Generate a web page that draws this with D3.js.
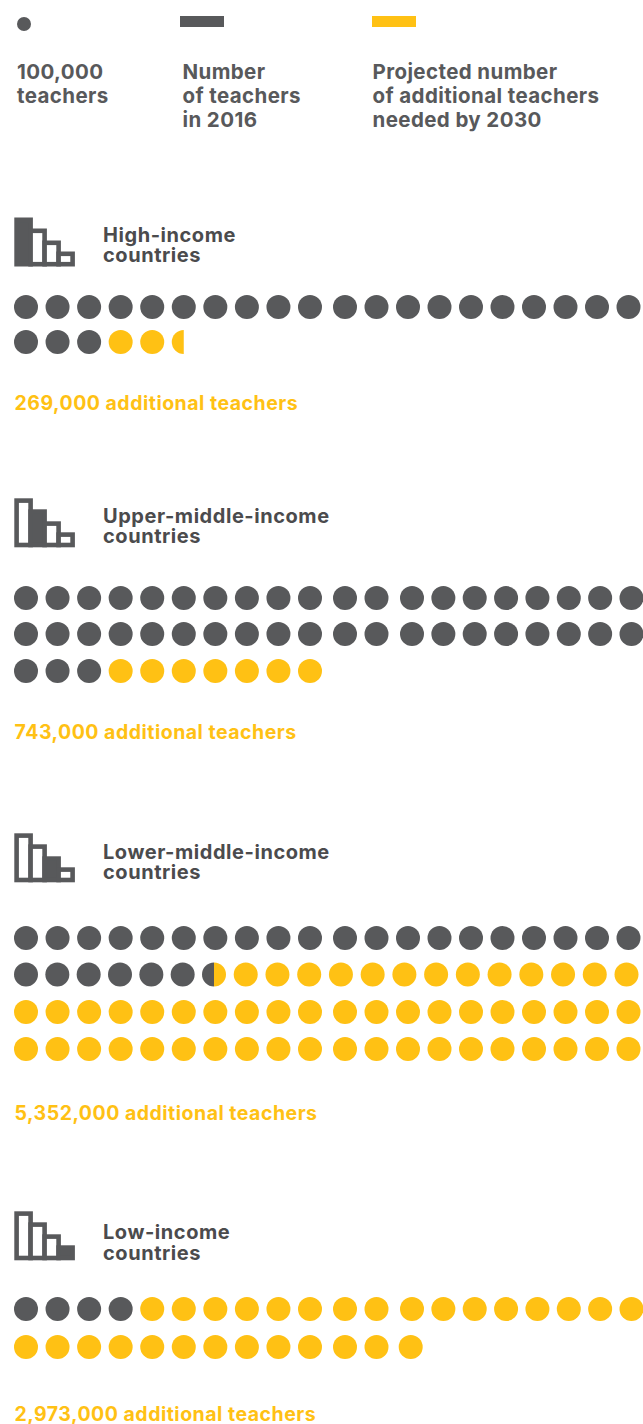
<!DOCTYPE html>
<html>
<head>
<meta charset="utf-8">
<script src="https://d3js.org/d3.v7.min.js"></script>
<style>
    html, body { margin: 0; padding: 0; background: #fff; }
    svg { display: block; }
    text { font-family: Inter, sans-serif; font-weight: 700; }
</style>
</head>
<body>
<svg id="chart" width="643" height="1424"></svg>
<script>
// one dot is 100,000 teachers
const groupNames = ["High-income", "Upper-middle-income", "Lower-middle-income", "Low-income"];
const teachers2016 = [23, 43, 26.5, 4];
const additionalDots = [2.5, 7, 53.5, 29];
const additionalLabels = ["269,000", "743,000", "5,352,000", "2,973,000"];
const iconBars = [49, 38, 26, 15];
const legendLabels = [
    ["100,000", "teachers"],
    ["Number", "of teachers", "in 2016"],
    ["Projected number", "of additional teachers", "needed by 2030"]
];

const grey = "#58595b", dark = "#4b4b4d", yellow = "#ffc114";
const dotsPerRow = 20, radius = 12;

const svg = d3.select("#chart");

// column positions were not quite regular in the original, so each row gets a piecewise scale
const plainCols = d3.scaleLinear().domain([0, 9, 10, 19]).range([26, 310, 345, 628.5]);
const wideCols = d3.scaleLinear().domain([0, 9, 10, 11, 12, 19]).range([26, 310, 345, 376.5, 412, 631.5]);
const shortCols = d3.scaleLinear().domain([0, 9, 10, 11, 12]).range([26, 310, 345, 376.5, 410.7]);
const evenCols = d3.scaleLinear().domain([0, 6, 19]).range([26, 214, 626.5]);

const layouts = [
    { iconTop: 217.5, titleY: 242, titleGap: 20, footY: 410, rowY: [307, 342], cols: [plainCols, plainCols] },
    { iconTop: 498.3, titleY: 523, titleGap: 20, footY: 739, rowY: [598, 634, 671], cols: [wideCols, wideCols, plainCols] },
    { iconTop: 833.3, titleY: 859, titleGap: 20, footY: 1120, rowY: [938, 974.5, 1012, 1049], cols: [plainCols, evenCols, plainCols, plainCols] },
    { iconTop: 1211.3, titleY: 1239, titleGap: 21, footY: 1420.5, rowY: [1309, 1347], cols: [wideCols, shortCols] }
];

drawLegend();
groupNames.forEach(drawGroup);

function drawLegend() {
    let legendX = [17, 182.5, 372.5];

    svg.append("circle").attr("cx", 24).attr("cy", 24).attr("r", 7).attr("fill", grey);
    svg.append("rect").attr("x", 180).attr("y", 16).attr("width", 44).attr("height", 11).attr("fill", grey);
    svg.append("rect").attr("x", 372).attr("y", 16).attr("width", 44).attr("height", 11).attr("fill", yellow);

    legendLabels.forEach(function (lines, i) {
        svg.append("g").selectAll("text").data(lines).enter()
            .append("text")
            .attr("x", legendX[i])
            .attr("y", function (d, j) { return 79 + j * 24; })
            .attr("font-size", 20.5)
            .attr("letter-spacing", 0.4)
            .attr("fill", grey)
            .text(function (d) { return d; });
    });
}

function drawGroup(name, g) {
    let layout = layouts[g];

    // income group icon, the bar of this group is filled in
    let iconX = d3.scaleBand().domain(d3.range(iconBars.length)).range([16.6, 72.6]);
    let iconBottom = layout.iconTop + iconBars[0];
    svg.append("g").selectAll("rect").data(iconBars).enter()
        .append("rect")
        .attr("x", function (d, i) { return iconX(i); })
        .attr("y", function (d) { return iconBottom - d + 2.3; })
        .attr("width", iconX.bandwidth())
        .attr("height", function (d) { return d - 4.6; })
        .attr("fill", function (d, i) { return i === g ? grey : "#fff"; })
        .attr("stroke", grey)
        .attr("stroke-width", 4.6);

    svg.append("g").selectAll("text").data([name, "countries"]).enter()
        .append("text")
        .attr("x", 103)
        .attr("y", function (d, i) { return layout.titleY + i * layout.titleGap; })
        .attr("font-size", 20)
        .attr("letter-spacing", 0.55)
        .attr("fill", dark)
        .text(function (d) { return d; });

    // split the dots into grey and yellow, a dot can be part of both
    let greyEnd = teachers2016[g], total = greyEnd + additionalDots[g];
    let cells = d3.range(Math.ceil(total)).map(function (i) {
        return {
            col: i % dotsPerRow,
            row: Math.floor(i / dotsPerRow),
            grey: Math.max(0, Math.min(1, greyEnd - i)),
            filled: Math.min(1, total - i)
        };
    });

    let dots = svg.append("g").selectAll("g").data(cells).enter()
        .append("g")
        .attr("transform", function (d) {
            return "translate(" + layout.cols[d.row](d.col) + "," + layout.rowY[d.row] + ")";
        });

    dots.filter(function (d) { return d.filled === 1 && (d.grey === 0 || d.grey === 1); })
        .append("circle")
        .attr("r", radius)
        .attr("fill", function (d) { return d.grey === 1 ? grey : yellow; });

    let halfArc = d3.arc().innerRadius(0).outerRadius(radius);
    let partial = dots.filter(function (d) { return d.filled < 1 || (d.grey > 0 && d.grey < 1); });

    // left half takes the colour that comes first
    partial.append("path")
        .attr("d", halfArc({ startAngle: -Math.PI, endAngle: 0 }))
        .attr("fill", function (d) { return d.grey > 0 ? grey : yellow; });
    partial.filter(function (d) { return d.filled === 1; })
        .append("path")
        .attr("d", halfArc({ startAngle: 0, endAngle: Math.PI }))
        .attr("fill", yellow);

    svg.append("text")
        .attr("x", 14.5)
        .attr("y", layout.footY)
        .attr("font-size", 19.5)
        .attr("letter-spacing", 0.5)
        .attr("fill", yellow)
        .text(additionalLabels[g] + " additional teachers");
}
</script>
</body>
</html>
